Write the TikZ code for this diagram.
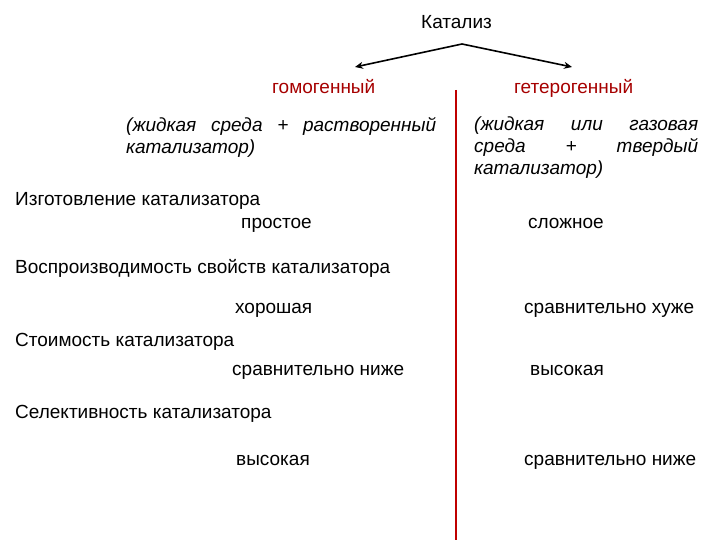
\documentclass[tikz,border=0pt]{standalone}
\usepackage{fontspec}
\usetikzlibrary{arrows.meta}
\setmainfont{Liberation Sans}
\begin{document}
\begin{tikzpicture}[x=1pt,y=-1pt,
  t/.style={anchor=base west,inner sep=0pt,font=\fontsize{19}{22}\selectfont},
  r/.style={t,text=red!65!black},
  it/.style={anchor=north west,inner sep=0pt,font=\fontsize{19}{22}\selectfont\itshape,text width=#1,align=justify},
  ar/.style={line width=1.6pt,-{Stealth[length=8pt,width=7pt]}}]
\useasboundingbox (0,0) rectangle (720,540);
\node[t] (kat) at (421,29) {Катализ};
\coordinate (top) at (462,44);
\coordinate (l) at (355,67);
\coordinate (r) at (572,67);
\draw[ar] (top) -- (l);
\draw[ar] (top) -- (r);
\node[r] (hom) at (272,94) {гомогенный};
\node[r] (het) at (514,94) {гетерогенный};
\coordinate (v1) at (456,90);
\coordinate (v2) at (456,540);
\draw[red!75!black,line width=2pt] (v1) -- (v2);
\node[it=310pt] (a) at (126,117) {(жидкая среда + растворенный катализатор)};
\node[it=224pt] (b) at (474,117) {(жидкая или газовая среда + твердый катализатор)};
\node[t] (c1) at (15,206) {Изготовление катализатора};
\node[t] (c1a) at (241,229) {простое};
\node[t] (c1b) at (528,229) {сложное};
\node[t] (c2) at (15,273) {Воспроизводимость свойств катализатора};
\node[t] (c2a) at (235,313) {хорошая};
\node[t] (c2b) at (524,313) {сравнительно хуже};
\node[t] (c3) at (15,346) {Стоимость катализатора};
\node[t] (c3a) at (232,375) {сравнительно ниже};
\node[t] (c3b) at (530,375) {высокая};
\node[t] (c4) at (15,418) {Селективность катализатора};
\node[t] (c4a) at (236,465) {высокая};
\node[t] (c4b) at (524,465) {сравнительно ниже};
\end{tikzpicture}
\end{document}
